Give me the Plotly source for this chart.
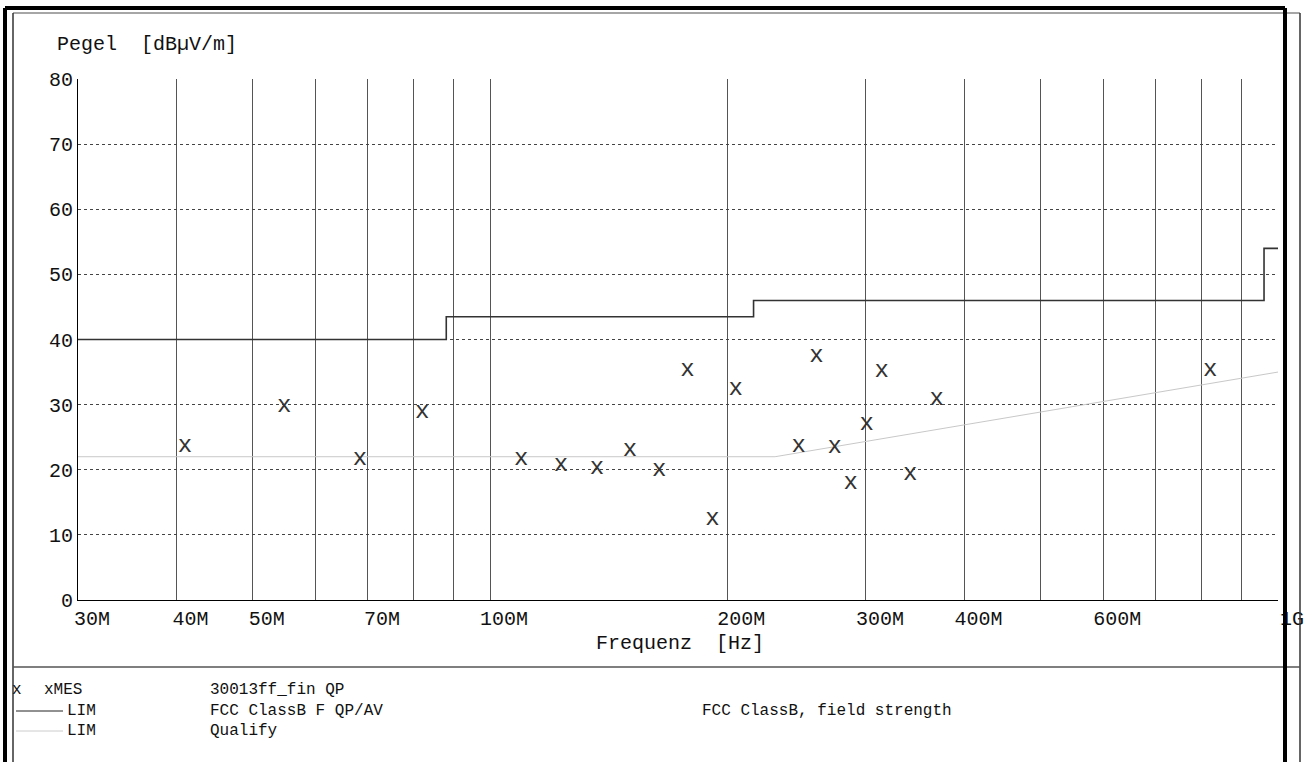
import numpy as np
import plotly.graph_objects as go

# measured peaks (QP), frequency in MHz and level in dBuV/m
mes_freq_mhz = [41.0, 54.8, 68.4, 82.0, 109.5, 123.0, 136.7, 150.5, 164.0, 178.0, 191.5,
                205.0, 246.5, 259.5, 273.8, 287.0, 300.6, 314.0, 341.4, 368.8, 820.0]
mes_level = [23.7, 29.8, 21.6, 28.8, 21.6, 20.8, 20.2, 23.1, 19.9, 35.3, 12.5,
             32.4, 23.7, 37.4, 23.5, 18.0, 27.1, 35.2, 19.4, 30.8, 35.3]

# FCC class B limit (steps)
lim_freq_mhz = [30, 88, 216, 960, 1000]
lim_level = [40, 43.5, 46, 54, 54]

# qualify line
qual_freq_mhz = [30, 230, 1000]
qual_level = [22, 22, 35]

grid_mhz = [30, 40, 50, 60, 70, 80, 90, 100, 200, 300, 400, 500, 600, 700, 800, 900, 1000]
tick_text = ["30M", "40M", "50M", "", "70M", "", "", "100M", "200M", "300M", "400M",
             "", "600M", "", "", "", "1G"]
y_ticks = [0, 10, 20, 30, 40, 50, 60, 70, 80]

FONT = "Liberation Mono"
W, H = 1309, 762
L, R, T, B = 78, 1278, 79, 600


def px(x, y):
    # pixel position -> paper coordinates
    return (x - L) / (R - L), (B - y) / (B - T)


fig = go.Figure()

fig.add_trace(go.Scatter(
    x=np.array(qual_freq_mhz) * 1e6, y=qual_level, mode="lines",
    line=dict(color="#c8c8c8", width=1), hoverinfo="skip"))
fig.add_trace(go.Scatter(
    x=np.array(lim_freq_mhz) * 1e6, y=lim_level, mode="lines", line_shape="hv",
    line=dict(color="#333333", width=1.6), hoverinfo="skip"))
fig.add_trace(go.Scatter(
    x=np.array(mes_freq_mhz) * 1e6, y=mes_level, mode="text", text=["x"] * len(mes_level),
    textposition="middle center", textfont=dict(family=FONT, size=24, color="#333333")))

fig.update_layout(
    width=W, height=H, template="simple_white", showlegend=False,
    margin=dict(l=L, r=W - R, t=T, b=H - B, autoexpand=False),
    paper_bgcolor="white", plot_bgcolor="white",
    font=dict(family=FONT, size=20, color="#111111"),
)
fig.update_xaxes(
    type="log", range=[np.log10(30e6), 9],
    tickvals=np.array(grid_mhz) * 1e6, ticktext=tick_text, ticks="",
    ticklabelshift=14, ticklabelstandoff=0,
    showgrid=True, gridcolor="#555555", gridwidth=1,
    showline=True, linecolor="black", linewidth=1, mirror=False,
    tickfont=dict(family=FONT, size=20),
)
fig.update_yaxes(
    range=[0, 80], tickvals=y_ticks, ticks="",
    showgrid=True, gridcolor="#444444", griddash="dot", gridwidth=1,
    showline=True, linecolor="black", linewidth=1, mirror=False,
    tickfont=dict(family=FONT, size=20),
)

ann = []


def text_at(x, y, s, size=20, anchor="left"):
    ax, ay = px(x, y)
    ann.append(dict(x=ax, y=ay, xref="paper", yref="paper", text=s, showarrow=False,
                    xanchor=anchor, yanchor="middle",
                    font=dict(family=FONT, size=size, color="#111111")))


text_at(55, 45, "Pegel  [dBµV/m]")
text_at(680, 643, "Frequenz  [Hz]", anchor="center")

text_at(10, 690, "x", size=16)
text_at(42, 690, "xMES", size=16)
text_at(208, 690, "30013ff_fin QP", size=16)
text_at(65, 711, "LIM", size=16)
text_at(208, 711, "FCC ClassB F QP/AV", size=16)
text_at(700, 711, "FCC ClassB, field strength", size=16)
text_at(65, 731, "LIM", size=16)
text_at(208, 731, "Qualify", size=16)
fig.update_layout(annotations=ann)

shapes = []


def line_px(x0, y0, x1, y1, color, width):
    a0, b0 = px(x0, y0)
    a1, b1 = px(x1, y1)
    shapes.append(dict(type="line", xref="paper", yref="paper", x0=a0, y0=b0, x1=a1, y1=b1,
                       opacity=1, line=dict(color=color, width=width)))


# legend line samples
line_px(16, 711, 63, 711, "#222222", 1)
line_px(16, 731, 63, 731, "#cccccc", 1)

# thin outer frame
line_px(13, 13, 1300, 13, "#888888", 1.5)
line_px(13, 13, 13, 770, "#333333", 1.5)
line_px(1300, 13, 1300, 770, "#333333", 1.5)
line_px(13, 667, 1300, 667, "#555555", 1.5)

# thick outer frame
line_px(5, 8, 1285, 8, "black", 4)
line_px(5, 8, 5, 770, "black", 4)
line_px(1285, 8, 1285, 770, "black", 4)

fig.update_layout(shapes=shapes)

# page body has a default 8px margin; drop it so the figure sits at the window corner
fig.write_html("out.html", config={"displayModeBar": False},
               post_script="document.body.style.margin='0px';")
